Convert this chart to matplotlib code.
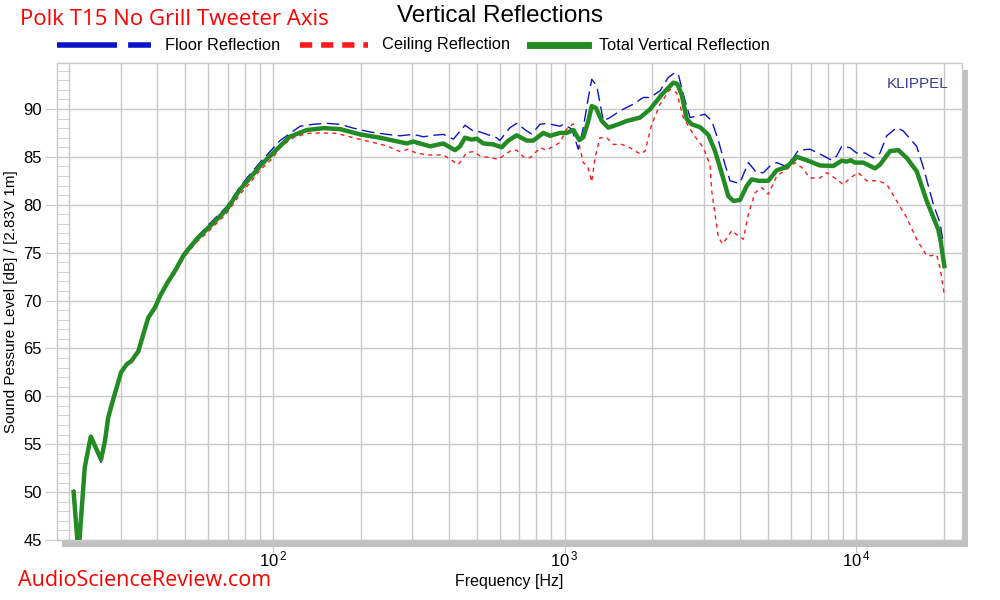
import matplotlib
matplotlib.use("Agg")
import matplotlib.pyplot as plt
from matplotlib.lines import Line2D
from matplotlib.patches import Rectangle
from matplotlib.ticker import LogLocator, NullFormatter, FixedLocator

plt.rcParams['font.family'] = ['Liberation Sans', 'DejaVu Sans']

# Total vertical reflection (green)
total_f = [20.7, 21.5, 22.6, 23.7, 25.7, 26.5, 27.2, 28.3, 30.1, 31.5, 32.7, 34.5, 37.3, 39.4,
           41.0, 43.7, 46.1, 49.5, 54.7, 60.0, 69.3, 77.1, 84.5, 90.2, 100, 114, 130.5, 148.8,
           169.7, 198.8, 232.8, 258.6, 287.5, 302.9, 327.9, 345.7, 383.9, 421.1, 438, 455.7,
           480.4, 499.8, 526.5, 569.8, 608.9, 641.4, 685.5, 741.9, 781.6, 845.9, 891.7, 965.2,
           1017, 1072, 1124, 1160, 1207, 1240, 1282, 1342, 1413, 1530, 1635, 1816, 1965, 2156,
           2362, 2438, 2523, 2626, 2732, 2916, 3114, 3284, 3462, 3647, 3793, 3999, 4217, 4387,
           4622, 5002, 5346, 5785, 6260, 6774, 7525, 8357, 8933, 9290, 9590, 9920, 10590, 11620,
           12090, 13080, 13970, 14920, 16150, 17480, 19160, 19520, 20090]
total_db = [50.0, 43.5, 52.6, 55.8, 53.4, 55.3, 57.8, 59.7, 62.5, 63.35, 63.7, 64.7, 68.2, 69.3,
            70.5, 72.0, 73.1, 74.8, 76.4, 77.6, 79.5, 81.6, 83.0, 84.05, 85.4, 87.1, 87.8, 88.0,
            87.9, 87.35, 87.0, 86.7, 86.4, 86.6, 86.3, 86.1, 86.4, 85.7, 86.1, 87.0,
            86.8, 86.9, 86.4, 86.3, 86.0, 86.7, 87.25, 86.7, 86.7, 87.5, 87.2, 87.5,
            87.5, 87.8, 86.75, 87.05, 88.75, 90.3, 90.1, 88.75, 88.05, 88.4, 88.75, 89.1, 89.97, 91.5,
            92.75, 92.6, 91.5, 88.95, 88.4, 88.1, 87.3, 85.6, 83.3, 80.9, 80.4, 80.5, 81.96, 82.65,
            82.5, 82.5, 83.6, 83.95, 85.0, 84.65, 84.1, 84.05, 84.6, 84.5, 84.65, 84.4, 84.4, 83.8,
            84.2, 85.6, 85.7, 84.9, 83.5, 80.4, 77.4, 76.2, 73.6]

# Floor reflection (blue)
floor_f = [20.7, 21.6, 22.6, 23.7, 25.7, 26.5, 27.2, 28.3, 30.1, 31.5, 32.7, 34.5, 37.3, 39.4,
           41.0, 43.7, 46.1, 49.5, 54.7, 60.0, 69.3, 77.1, 84.5, 90.2, 100, 105.7, 123.8, 137.5,
           152.8, 169.7, 188.6, 215.1, 245.5, 272.8, 302.9, 327.9, 354.8, 383.9, 415.5, 455.7,
           486.6, 513, 540.9, 585.4, 599, 650.3, 685.5, 741.9, 771.8, 824.1, 868.7, 965, 990.6,
           1058.5, 1115, 1160, 1207, 1240, 1290, 1359, 1432, 1550, 1722, 1864, 1965, 2127, 2270,
           2394, 2458, 2556, 2695, 2877, 3034, 3199, 3371, 3553, 3697, 3897, 3999, 4271, 4563,
           4808, 5070, 5346, 5707, 6095, 6339, 6954, 7525, 8252, 8585, 8933, 9537, 10055, 10737,
           11463, 12090, 12744, 13788, 14530, 16150, 17020, 18420, 19420, 19940]
floor_db = [50.3, 43.0, 52.0, 55.8, 53.1, 55.2, 57.9, 59.8, 62.6, 63.4, 63.8, 64.8, 68.3, 69.4,
            70.6, 72.1, 73.3, 75.0, 76.6, 77.9, 79.8, 81.9, 83.4, 84.4, 85.9, 86.7, 88.2, 88.4,
            88.5, 88.4, 88.0, 87.6, 87.35, 87.2, 87.35, 87.1, 87.25, 87.35, 86.85, 88.3,
            87.7, 87.6, 87.35, 87.0, 86.7, 88.05, 88.5, 87.7, 87.4, 88.4, 88.5, 88.2, 88.4,
            87.9, 85.8, 88.05, 91.2, 93.1, 92.4, 88.75, 89.1, 89.8, 90.5, 91.2, 91.2, 91.9, 93.3,
            93.8, 93.6, 91.5, 89.1, 89.3, 89.45, 88.75, 86.7, 84.2, 82.5, 82.3, 82.3, 84.4, 83.35,
            83.35, 84.05, 84.4, 84.05, 84.9, 85.7, 85.8, 85.3, 84.65, 85.1, 86.1, 85.95, 85.4, 85.4,
            84.9, 85.4, 87.2, 88.05, 87.7, 86.1, 83.9, 80.05, 78.1, 75.9]

# Ceiling reflection (red)
ceil_f = [20.7, 21.6, 22.6, 23.7, 25.7, 26.5, 27.2, 28.3, 30.1, 31.5, 32.7, 34.5, 37.3, 39.4,
          41.0, 43.7, 46.1, 49.5, 54.7, 60.0, 69.3, 77.1, 84.5, 90.2, 100, 105.7, 117.4, 130.5,
          148.8, 165.4, 188.6, 220.8, 245.5, 272.8, 291.1, 307, 336.8, 383.9, 404.8, 432.3,
          461.8, 486.6, 513, 569.8, 592.8, 650.3, 685.5, 722.3, 761.6, 824.1, 868.7, 965, 1017,
          1072, 1115, 1160, 1201, 1240, 1272, 1324, 1396, 1471, 1571, 1678, 1816, 1889, 1991,
          2127, 2301, 2426, 2556, 2767, 2994, 3156, 3199, 3284, 3371, 3489, 3745, 3947, 4107,
          4271, 4503, 4748, 5002, 5346, 5785, 6178, 6512, 6954, 7525, 7934, 8585, 9045, 9537,
          10183, 10882, 11928, 12744, 13788, 14920, 16150, 17480, 18920, 19420, 20040]
ceil_db = [49.8, 44.5, 52.5, 55.9, 53.6, 55.5, 57.7, 59.6, 62.4, 63.3, 63.6, 64.6, 68.0, 69.1,
           70.3, 71.8, 72.8, 74.5, 76.1, 77.2, 79.1, 81.1, 82.5, 83.6, 84.9, 86.0, 87.0, 87.45,
           87.5, 87.45, 87.0, 86.5, 86.15, 85.55, 85.8, 85.45, 85.2, 85.2, 84.75, 84.2,
           85.45, 85.55, 85.1, 84.85, 84.75, 85.6, 85.7, 85.0, 84.9, 85.95, 85.7, 86.5, 87.9,
           88.45, 86.65, 84.4, 84.0, 82.4, 84.9, 87.0, 87.0, 86.3, 86.3, 85.95, 85.3, 85.6, 88.4,
           90.5, 92.05, 91.7, 89.1, 87.35, 85.95, 84.2, 81.45, 79.0, 76.6, 75.9, 77.3, 76.75, 76.4,
           79.0, 81.25, 81.8, 81.1, 83.0, 83.7, 84.4, 83.9, 82.8, 82.8, 83.35, 82.65, 82.1, 82.8,
           83.35, 82.5, 82.5, 82.15, 80.4, 78.65, 76.4, 74.65, 74.75, 73.4, 70.8]

blue = '#0a14c8'
red = '#ff1a1a'
green = '#238b23'
gridc = '#c8c8c8'

fig = plt.figure(figsize=(10, 6), dpi=100)
ax = fig.add_axes([0.057, 0.1, 0.905, 0.795])

# drop shadow behind the plot frame
fig.add_artist(Rectangle((0.062, 0.0883), 0.906, 0.795, transform=fig.transFigure,
                         facecolor='#c0c0c0', edgecolor='none', zorder=-1))

ax.plot(floor_f, floor_db, color=blue, lw=1.0, dashes=(9, 4), zorder=3)
ax.plot(ceil_f, ceil_db, color=red, lw=1.0, dashes=(3, 3), zorder=3)
ax.plot(total_f, total_db, color=green, lw=3.2, zorder=4, solid_joinstyle='round')

ax.set_xscale('log')
ax.set_xlim(18.15, 23100)
ax.set_ylim(45, 94.8)

ax.xaxis.set_major_locator(FixedLocator([100, 1000, 10000]))
ax.set_xticklabels([r'$\mathregular{10^{\,2}}$', r'$\mathregular{10^{\,3}}$', r'$\mathregular{10^{\,4}}$'])
ax.xaxis.set_minor_locator(LogLocator(base=10, subs=[2, 3, 4, 5, 6, 7, 8, 9]))
ax.xaxis.set_minor_formatter(NullFormatter())
ax.set_yticks(range(45, 95, 5))
ax.set_yticks(range(45, 95, 1), minor=True)

ax.grid(True, which='major', color=gridc, lw=1.0)
ax.grid(True, which='minor', axis='x', color=gridc, lw=1.0)
ax.tick_params(axis='x', which='major', direction='out', length=10, color=gridc,
               labelsize=12, pad=-3)
ax.tick_params(axis='x', which='minor', length=0)
ax.tick_params(axis='y', which='major', direction='out', length=9, color=gridc,
               labelsize=12, pad=2)
ax.tick_params(axis='y', which='minor', direction='in', length=9, color=gridc)
for s in ax.spines.values():
    s.set_color(gridc)
    s.set_linewidth(1.0)
ax.set_axisbelow(True)

ax.set_xlabel('Frequency [Hz]', fontsize=11.5, labelpad=3)
ax.set_ylabel('Sound Pessure Level [dB] / [2.83V 1m]', fontsize=11, labelpad=4)

ax.text(0.985, 0.955, 'KLIPPEL', transform=ax.transAxes, ha='right', va='center',
        fontsize=11, color='#3c3c96')

fig.text(0.5, 0.974, 'Vertical Reflections', ha='center', va='center', fontsize=17.5)
fig.text(0.02, 0.968, 'Polk T15 No Grill Tweeter Axis', ha='left', va='center',
         fontsize=16, color='#ff0000', family=['Open Sans', 'DejaVu Sans'])
fig.text(0.018, 0.032, 'AudioScienceReview.com', ha='left', va='center',
         fontsize=15.5, color='#ff0000', family=['Open Sans', 'DejaVu Sans'])

# legend drawn above the axes
ly = 1 - 45 / 600
fig.add_artist(Line2D([0.057, 0.151], [ly, ly], transform=fig.transFigure, color=blue,
                      lw=4, dashes=(10.8, 2)))
fig.text(0.165, ly, 'Floor Reflection', ha='left', va='center', fontsize=11.8)
fig.add_artist(Line2D([0.300, 0.368], [ly, ly], transform=fig.transFigure, color=red,
                      lw=4, dashes=(2.2, 1.6)))
fig.text(0.382, ly, 'Ceiling Reflection', ha='left', va='center', fontsize=11.8)
fig.add_artist(Line2D([0.530, 0.588], [ly, ly], transform=fig.transFigure, color=green,
                      lw=5))
fig.text(0.599, ly, 'Total Vertical Reflection', ha='left', va='center', fontsize=11.8)

fig.savefig('out.png', dpi=100)
